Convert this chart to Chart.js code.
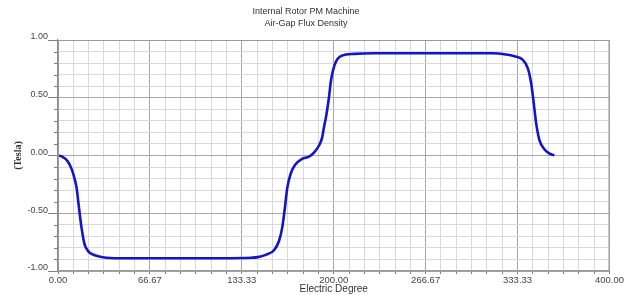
<!DOCTYPE html>
<html>
<head>
<meta charset="utf-8">
<script src="https://cdn.jsdelivr.net/npm/chart.js@4.4.1/dist/chart.umd.min.js"></script>
<style>
  html, body { margin: 0; padding: 0; background: #ffffff; }
  #wrap { width: 625px; height: 295px; position: relative; }
</style>
</head>
<body>
<div id="wrap"><canvas id="c"></canvas></div>
<script>
// ---- data ----
const titleLines = ['Internal Rotor PM Machine', 'Air-Gap Flux Density'];
const xAxisTitle = 'Electric Degree';
const yAxisTitle = '(Tesla)';
const xTickLabels = ['0.00', '66.67', '133.33', '200.00', '266.67', '333.33', '400.00'];
const yTickLabels = ['-1.00', '-0.50', '0.00', '0.50', '1.00'];

const degrees = [0, 3, 7, 10, 12, 13.5, 15, 17, 19.3, 22, 24, 30, 35, 50, 100, 140, 145, 150.7, 156.7,
  160.3, 162.7, 164.6, 166.3, 168.7, 172, 177, 182, 186, 189, 191.5, 193, 194.5, 196.5, 198, 200.5,
  203, 206, 215, 230, 315, 325, 331, 337, 340.8, 343.2, 345.1, 346.8, 349.2, 352.8, 356, 360];
const fluxDensity = [0, -0.01, -0.05, -0.12, -0.2, -0.28, -0.43, -0.62, -0.77, -0.83, -0.85, -0.875,
  -0.885, -0.89, -0.89, -0.885, -0.88, -0.86, -0.82, -0.74, -0.62, -0.45, -0.28, -0.16, -0.08, -0.03,
  -0.01, 0.03, 0.08, 0.15, 0.25, 0.34, 0.5, 0.65, 0.78, 0.84, 0.865, 0.88, 0.885, 0.885, 0.875, 0.86,
  0.83, 0.755, 0.625, 0.45, 0.28, 0.134, 0.054, 0.02, 0];

const xMin = 0, xMax = 400, xMinorPerMajor = 6;
const yMin = -1, yMax = 1, yMinorPerMajor = 5;

const points = degrees.map((d, i) => ({ x: d, y: fluxDensity[i] }));

const minorGrid = '#d9d9d9';
const majorGrid = '#a8a8a8';
const tickCol = '#808080';

new Chart(document.getElementById('c'), {
  type: 'line',
  data: {
    datasets: [{
      data: points,
      borderColor: '#1414c8',
      borderWidth: 2.6,
      pointRadius: 0,
      fill: false,
      cubicInterpolationMode: 'monotone'
    }]
  },
  options: {
    responsive: true,
    maintainAspectRatio: false,
    animation: false,
    layout: { padding: { left: 0, right: 13, top: 0, bottom: 0 } },
    plugins: {
      legend: { display: false },
      tooltip: { enabled: false },
      title: {
        display: true,
        text: titleLines,
        color: '#333333',
        font: { family: 'Liberation Sans, Arial, sans-serif', size: 9, weight: 'normal', lineHeight: '12px' },
        padding: { top: 6, bottom: 10 }
      }
    },
    scales: {
      x: {
        type: 'linear',
        min: xMin, max: xMax,
        afterBuildTicks: (scale) => {
          const n = (xTickLabels.length - 1) * xMinorPerMajor;
          const t = [];
          for (let i = 0; i <= n; i++) t.push({ value: xMin + (xMax - xMin) * i / n });
          scale.ticks = t;
        },
        afterFit: (scale) => { scale.height = 24; },
        ticks: {
          autoSkip: false, maxRotation: 0, padding: 1,
          color: '#444444',
          font: { family: 'Liberation Sans, Arial, sans-serif', size: 9.5 },
          callback: (v, i) => (i % xMinorPerMajor === 0 ? xTickLabels[i / xMinorPerMajor] : '')
        },
        grid: {
          color: (ctx) => (ctx.index % xMinorPerMajor === 0 ? majorGrid : minorGrid),
          lineWidth: 1,
          tickLength: 3,
          tickColor: tickCol
        },
        border: { color: '#8a8a8a', width: 1.2 },
        title: {
          display: true, text: xAxisTitle, color: '#333333',
          font: { family: 'Liberation Sans, Arial, sans-serif', size: 10 },
          padding: { top: -2, bottom: 0 }
        }
      },
      y: {
        type: 'linear',
        min: yMin, max: yMax,
        afterBuildTicks: (scale) => {
          const n = (yTickLabels.length - 1) * yMinorPerMajor;
          const t = [];
          for (let i = 0; i <= n; i++) t.push({ value: yMin + (yMax - yMin) * i / n });
          scale.ticks = t;
        },
        afterFit: (scale) => { scale.width = 58; },
        ticks: {
          autoSkip: false, padding: 0, labelOffset: -3,
          color: '#444444',
          font: { family: 'Liberation Sans, Arial, sans-serif', size: 9 },
          callback: (v, i) => (i % yMinorPerMajor === 0 ? yTickLabels[i / yMinorPerMajor] : '')
        },
        grid: {
          color: (ctx) => (ctx.index % yMinorPerMajor === 0 ? majorGrid : minorGrid),
          lineWidth: 1,
          tickLength: 10,
          tickColor: (ctx) => (ctx.index % yMinorPerMajor === 0 ? tickCol : 'rgba(0,0,0,0)')
        },
        border: { color: '#8a8a8a', width: 1.2 },
        title: {
          display: true, text: yAxisTitle, color: '#333333',
          font: { family: 'Liberation Serif, Times New Roman, serif', size: 10, weight: 'bold' },
          padding: { top: 12, bottom: 0 }
        }
      }
    }
  },
  plugins: [{
    id: 'frameAndMinorTicks',
    afterDatasetsDraw(chart) {
      const { ctx, chartArea: a } = chart;
      const ys = chart.scales.y;
      ctx.save();
      ctx.strokeStyle = '#9a9a9a';
      ctx.lineWidth = 1;
      ctx.strokeRect(a.left + 0.5, a.top + 0.5, a.right - a.left - 1, a.bottom - a.top - 1);
      // short minor ticks on the value axis
      ctx.strokeStyle = tickCol;
      ctx.beginPath();
      ys.ticks.forEach((t, i) => {
        if (i % yMinorPerMajor === 0) return;
        const py = Math.round(ys.getPixelForValue(t.value)) + 0.5;
        ctx.moveTo(a.left - 4, py);
        ctx.lineTo(a.left, py);
      });
      ctx.stroke();
      ctx.restore();
    }
  }]
});
</script>
</body>
</html>
